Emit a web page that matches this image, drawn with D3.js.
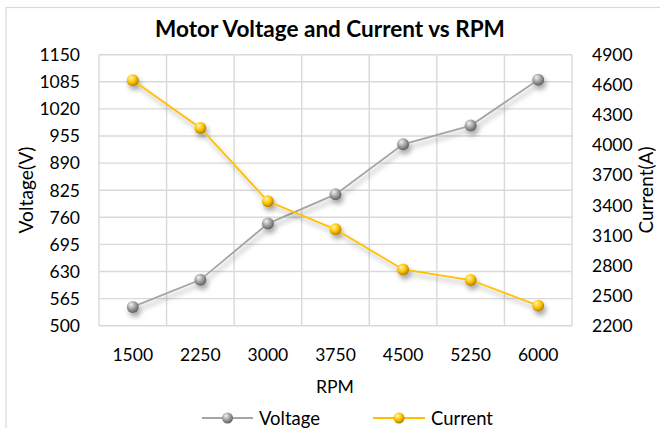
<!DOCTYPE html>
<html>
<head>
<meta charset="utf-8">
<script src="https://cdn.jsdelivr.net/npm/d3@7"></script>
<style>
  html, body { margin: 0; padding: 0; background: #fff; }
  svg { display: block; font-family: Lato, "Open Sans", sans-serif; }
</style>
</head>
<body>
<svg id="chart" width="660" height="428"></svg>
<script>
// ---- data ----
const rpm = ["1500", "2250", "3000", "3750", "4500", "5250", "6000"];
const voltage = [545, 610, 745, 815, 935, 980, 1090];
const current = [4645, 4170, 3440, 3160, 2760, 2655, 2400];
const voltageTicks = [500, 565, 630, 695, 760, 825, 890, 955, 1020, 1085, 1150];
const currentTicks = [2200, 2500, 2800, 3100, 3400, 3700, 4000, 4300, 4600, 4900];

const svg = d3.select("#chart");
const L = 99, R = 572, T = 54.7, B = 325.7;

const x = d3.scaleBand().domain(rpm).range([L, R]).padding(0);
const yV = d3.scaleLinear().domain([500, 1150]).range([B, T]);
const yC = d3.scaleLinear().domain([2200, 4900]).range([B, T]);

// defs
const defs = svg.append("defs");
function sphere(id, c0, c1, c2) {
  const g = defs.append("radialGradient").attr("id", id)
    .attr("cx", "40%").attr("cy", "35%").attr("r", "65%").attr("fx", "35%").attr("fy", "30%");
  g.append("stop").attr("offset", "0%").attr("stop-color", c0);
  g.append("stop").attr("offset", "55%").attr("stop-color", c1);
  g.append("stop").attr("offset", "100%").attr("stop-color", c2);
}
sphere("gGray", "#f2f2f2", "#a0a0a0", "#5e5e5e");
sphere("gGold", "#fff6b0", "#ffc400", "#b07d00");
const f = defs.append("filter").attr("id", "shadow")
  .attr("x", "-20%").attr("y", "-20%").attr("width", "140%").attr("height", "140%");
f.append("feGaussianBlur").attr("in", "SourceAlpha").attr("stdDeviation", 2.4).attr("result", "b");
f.append("feOffset").attr("in", "b").attr("dx", 2).attr("dy", 4).attr("result", "o");
f.append("feFlood").attr("flood-color", "#000").attr("flood-opacity", 0.34).attr("result", "c");
f.append("feComposite").attr("in", "c").attr("in2", "o").attr("operator", "in").attr("result", "s");
const m = f.append("feMerge");
m.append("feMergeNode").attr("in", "s");
m.append("feMergeNode").attr("in", "SourceGraphic");

// outer border
svg.append("rect").attr("x", 6).attr("y", 7.5).attr("width", 700).attr("height", 500)
  .attr("fill", "none").attr("stroke", "#d9d9d9").attr("stroke-width", 1.2);

// gridlines
const grid = svg.append("g").attr("stroke", "#d9d9d9").attr("stroke-width", 1.4);
grid.selectAll("line.h").data(voltageTicks).join("line")
  .attr("x1", L).attr("x2", R).attr("y1", d => yV(d)).attr("y2", d => yV(d));
const vx = rpm.map(d => x(d)).concat([R]);
grid.selectAll("line.v").data(vx).join("line")
  .attr("x1", d => d).attr("x2", d => d).attr("y1", T).attr("y2", B);

// axes
const fontSize = 17.5;
const ax = svg.append("g").attr("font-size", fontSize).attr("fill", "#000");
ax.selectAll("text.yl").data(voltageTicks).join("text")
  .attr("x", 80).attr("y", d => yV(d)).attr("dy", "0.36em").attr("text-anchor", "end").text(d => d);
ax.selectAll("text.yr").data(currentTicks).join("text")
  .attr("x", 592).attr("y", d => yC(d)).attr("dy", "0.36em").attr("text-anchor", "start").text(d => d);
ax.selectAll("text.xl").data(rpm).join("text")
  .attr("x", d => x(d) + x.bandwidth() / 2).attr("y", 355).attr("dy", "0.36em")
  .attr("text-anchor", "middle").text(d => d);

function fit(sel, w) {
  const n = sel.node();
  const cur = parseFloat(sel.attr("font-size"));
  const len = n.getComputedTextLength();
  sel.attr("font-size", cur * w / len);
}

// title
const title = svg.append("text").attr("x", 330).attr("y", 37).attr("text-anchor", "middle")
  .attr("font-weight", "bold").attr("font-size", 19).attr("fill", "#000")
  .text("Motor Voltage and Current vs RPM");
fit(title, 350);

// axis titles
const xt = svg.append("text").attr("x", 335).attr("y", 387).attr("dy", "0.36em")
  .attr("text-anchor", "middle").attr("font-size", fontSize).text("RPM");
fit(xt, 38);
const ylt = svg.append("text").attr("transform", "translate(26,190) rotate(-90)")
  .attr("dy", "0.36em").attr("text-anchor", "middle").attr("font-size", fontSize).text("Voltage(V)");
fit(ylt, 87);
const yrt = svg.append("text").attr("transform", "translate(646,190) rotate(-90)")
  .attr("dy", "0.36em").attr("text-anchor", "middle").attr("font-size", fontSize).text("Current(A)");
fit(yrt, 87);

// series
const series = [
  { name: "Voltage", values: voltage, y: yV, color: "#a5a5a5", grad: "url(#gGray)" },
  { name: "Current", values: current, y: yC, color: "#ffc000", grad: "url(#gGold)" }
];
const cx = d => x(d) + x.bandwidth() / 2;
series.forEach(s => {
  const g = svg.append("g").attr("filter", "url(#shadow)");
  const line = d3.line().x((d, i) => cx(rpm[i])).y(d => s.y(d));
  g.append("path").datum(s.values).attr("d", line).attr("fill", "none")
    .attr("stroke", s.color).attr("stroke-width", 1.8);
  g.selectAll("circle").data(s.values).join("circle")
    .attr("cx", (d, i) => cx(rpm[i])).attr("cy", d => s.y(d)).attr("r", 6)
    .attr("fill", s.grad);
});

// legend
const legend = [
  { s: series[0], x1: 202, x2: 253, tx: 259, tw: 61 },
  { s: series[1], x1: 373, x2: 425, tx: 431, tw: 62 }
];
legend.forEach(l => {
  const g = svg.append("g");
  const ly = 418;
  g.append("line").attr("x1", l.x1).attr("x2", l.x2).attr("y1", ly).attr("y2", ly)
    .attr("stroke", l.s.color).attr("stroke-width", 1.8);
  g.append("circle").attr("cx", (l.x1 + l.x2) / 2).attr("cy", ly).attr("r", 5.5).attr("fill", l.s.grad);
  const t = g.append("text").attr("x", l.tx).attr("y", ly).attr("dy", "0.36em")
    .attr("font-size", fontSize).text(l.s.name);
  fit(t, l.tw);
});
</script>
</body>
</html>
